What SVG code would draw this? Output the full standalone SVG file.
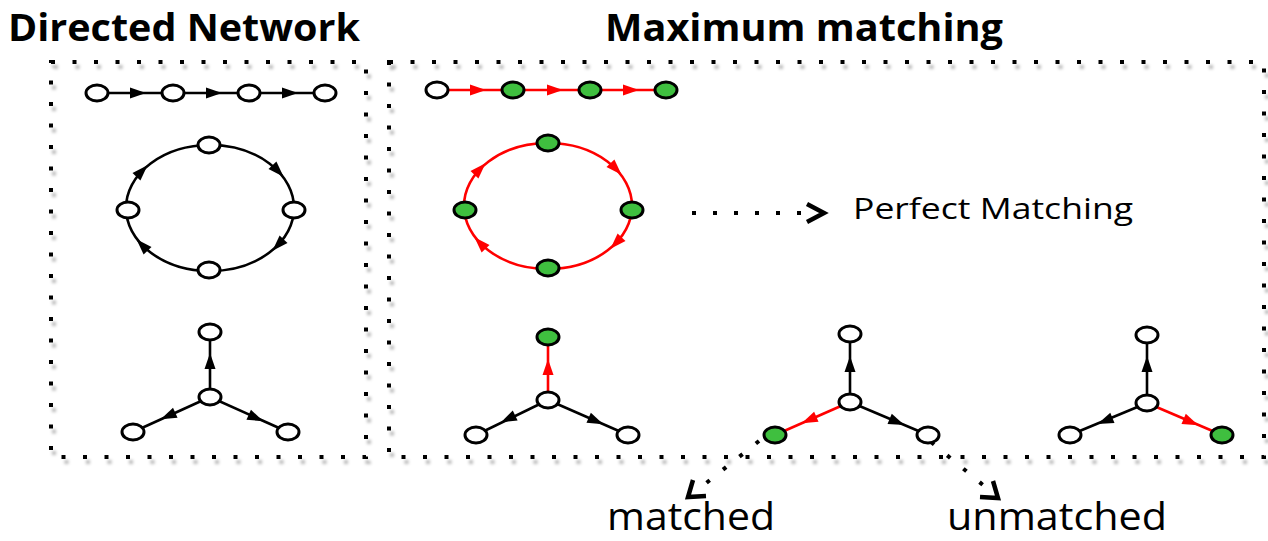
<svg xmlns="http://www.w3.org/2000/svg" xmlns:xlink="http://www.w3.org/1999/xlink" width="1268" height="541" viewBox="0 0 1268 541">
<style>
.frame{fill:none;stroke:#000;stroke-width:4;stroke-dasharray:4 17.5;filter:url(#sh)}
.dots{fill:none;stroke:#000;stroke-width:4;stroke-dasharray:4 17}
.chev{fill:none;stroke:#000;stroke-width:4.5;stroke-linejoin:miter;stroke-linecap:butt}
.n{fill:#fff;stroke:#000;stroke-width:3}
.g{fill:#3fbf3f;stroke:#000;stroke-width:3}
.e{stroke:#000;stroke-width:2.6;fill:none}
.r{stroke:#f00;stroke-width:2.6;fill:none}
.ab{fill:#000}
.ar{fill:#f00}
.title{font-family:"Open Sans","Liberation Sans",Arial,sans-serif;font-weight:bold;font-size:38px;fill:#000}
.lbl{font-family:"Open Sans","Liberation Sans",Arial,sans-serif;font-size:30px;fill:#000}
.big{font-family:"Open Sans","Liberation Sans",Arial,sans-serif;font-size:38px;fill:#000}
</style>
<defs>
<filter id="sh" x="-5%" y="-5%" width="110%" height="115%">
<feDropShadow dx="3" dy="5" stdDeviation="1.6" flood-color="#000" flood-opacity="0.28"/>
</filter>
<path id="ah" d="M-8,-5.5 L8,0 L-8,5.5 z"/>
</defs>

<g id="titles">
<text class="title" x="8" y="41" textLength="352" lengthAdjust="spacingAndGlyphs">Directed Network</text>
<text class="title" x="605" y="41" textLength="398" lengthAdjust="spacingAndGlyphs">Maximum matching</text>
</g>

<g id="frames">
<rect class="frame" x="51" y="62" width="315" height="395"/>
<rect class="frame" x="389" y="62" width="875" height="395"/>
</g>

<g id="connectors">
<!-- left chain -->
<line class="e" x1="97" y1="93" x2="325" y2="93"/>
<use href="#ah" class="ab" transform="translate(138,93)"/>
<use href="#ah" class="ab" transform="translate(214,93)"/>
<use href="#ah" class="ab" transform="translate(290,93)"/>
<!-- left ring -->
<ellipse class="e" cx="210" cy="208" rx="84" ry="63"/>
<use href="#ah" class="ab" transform="translate(278,171) rotate(46)"/>
<use href="#ah" class="ab" transform="translate(278,245) rotate(134)"/>
<use href="#ah" class="ab" transform="translate(142,245) rotate(226)"/>
<use href="#ah" class="ab" transform="translate(142,171) rotate(-46)"/>
<!-- left star -->
<line class="e" x1="210" y1="397" x2="210" y2="332"/>
<line class="e" x1="210" y1="397" x2="133" y2="432"/>
<line class="e" x1="210" y1="397" x2="288" y2="432"/>
<use href="#ah" class="ab" transform="translate(210,361) rotate(-90)"/>
<use href="#ah" class="ab" transform="translate(168,416) rotate(155.6)"/>
<use href="#ah" class="ab" transform="translate(256,418) rotate(24.2)"/>

<!-- right chain -->
<line class="r" x1="437" y1="90" x2="666" y2="90"/>
<use href="#ah" class="ar" transform="translate(478,90)"/>
<use href="#ah" class="ar" transform="translate(555,90)"/>
<use href="#ah" class="ar" transform="translate(631,90)"/>
<!-- right ring -->
<ellipse class="r" cx="548" cy="206" rx="84" ry="63"/>
<use href="#ah" class="ar" transform="translate(616,169) rotate(46)"/>
<use href="#ah" class="ar" transform="translate(616,243) rotate(134)"/>
<use href="#ah" class="ar" transform="translate(480,243) rotate(226)"/>
<use href="#ah" class="ar" transform="translate(480,169) rotate(-46)"/>
<!-- star 1 -->
<line class="r" x1="548" y1="400" x2="548" y2="337"/>
<line class="e" x1="548" y1="400" x2="476" y2="435"/>
<line class="e" x1="548" y1="400" x2="628" y2="435"/>
<use href="#ah" class="ar" transform="translate(548,367) rotate(-90)"/>
<use href="#ah" class="ab" transform="translate(508,419) rotate(154)"/>
<use href="#ah" class="ab" transform="translate(596,421) rotate(23.6)"/>
<!-- star 2 -->
<line class="e" x1="850" y1="402" x2="850" y2="334"/>
<line class="r" x1="850" y1="402" x2="775" y2="435"/>
<line class="e" x1="850" y1="402" x2="928" y2="435"/>
<use href="#ah" class="ab" transform="translate(850,364) rotate(-90)"/>
<use href="#ah" class="ar" transform="translate(809,420) rotate(156.3)"/>
<use href="#ah" class="ab" transform="translate(897,422) rotate(22.9)"/>
<!-- star 3 -->
<line class="e" x1="1147" y1="403" x2="1147" y2="335"/>
<line class="e" x1="1147" y1="403" x2="1070" y2="435"/>
<line class="r" x1="1147" y1="403" x2="1222" y2="435"/>
<use href="#ah" class="ab" transform="translate(1147,364) rotate(-90)"/>
<use href="#ah" class="ab" transform="translate(1105,421) rotate(157.4)"/>
<use href="#ah" class="ar" transform="translate(1191,422) rotate(23.1)"/>

<!-- annotation arrows -->
<line class="dots" x1="692" y1="213" x2="804" y2="213"/>
<polyline class="chev" points="807,204 824,213 807,222"/>
<line class="dots" x1="759" y1="441" x2="705" y2="484"/>
<polyline class="chev" points="706,496 688,497 693,480"/>
<line class="dots" x1="931" y1="442" x2="983" y2="485"/>
<polyline class="chev" points="993,481 998,498 980,497"/>
</g>

<g id="nodes">
<g id="dn-chain">
<ellipse class="n" cx="97" cy="93" rx="11" ry="8"/>
<ellipse class="n" cx="173" cy="93" rx="11" ry="8"/>
<ellipse class="n" cx="249" cy="93" rx="11" ry="8"/>
<ellipse class="n" cx="325" cy="93" rx="11" ry="8"/>
</g>
<g id="dn-ring">
<ellipse class="n" cx="209" cy="145" rx="11" ry="8"/>
<ellipse class="n" cx="128" cy="210" rx="11" ry="8"/>
<ellipse class="n" cx="294" cy="210" rx="11" ry="8"/>
<ellipse class="n" cx="209" cy="270" rx="11" ry="8"/>
</g>
<g id="dn-star">
<ellipse class="n" cx="210" cy="332" rx="11" ry="8"/>
<ellipse class="n" cx="210" cy="397" rx="11" ry="8"/>
<ellipse class="n" cx="133" cy="432" rx="11" ry="8"/>
<ellipse class="n" cx="288" cy="432" rx="11" ry="8"/>
</g>
<g id="mm-chain">
<ellipse class="n" cx="437" cy="90" rx="11" ry="8"/>
<ellipse class="g" cx="513" cy="90" rx="11" ry="8"/>
<ellipse class="g" cx="590" cy="90" rx="11" ry="8"/>
<ellipse class="g" cx="666" cy="90" rx="11" ry="8"/>
</g>
<g id="mm-ring">
<ellipse class="g" cx="548" cy="143" rx="11" ry="8"/>
<ellipse class="g" cx="465" cy="210" rx="11" ry="8"/>
<ellipse class="g" cx="632" cy="210" rx="11" ry="8"/>
<ellipse class="g" cx="548" cy="268" rx="11" ry="8"/>
</g>
<g id="mm-star1">
<ellipse class="g" cx="548" cy="337" rx="11" ry="8"/>
<ellipse class="n" cx="548" cy="400" rx="11" ry="8"/>
<ellipse class="n" cx="476" cy="435" rx="11" ry="8"/>
<ellipse class="n" cx="628" cy="435" rx="11" ry="8"/>
</g>
<g id="mm-star2">
<ellipse class="n" cx="850" cy="334" rx="11" ry="8"/>
<ellipse class="n" cx="850" cy="402" rx="11" ry="8"/>
<ellipse class="g" cx="775" cy="435" rx="11" ry="8"/>
<ellipse class="n" cx="928" cy="435" rx="11" ry="8"/>
</g>
<g id="mm-star3">
<ellipse class="n" cx="1147" cy="335" rx="11" ry="8"/>
<ellipse class="n" cx="1147" cy="403" rx="11" ry="8"/>
<ellipse class="n" cx="1070" cy="435" rx="11" ry="8"/>
<ellipse class="g" cx="1222" cy="435" rx="11" ry="8"/>
</g>
</g>

<g id="labels">
<text class="lbl" x="853" y="219" textLength="280" lengthAdjust="spacingAndGlyphs">Perfect Matching</text>
<text class="big" x="607" y="530" textLength="168" lengthAdjust="spacingAndGlyphs">matched</text>
<text class="big" x="947" y="530" textLength="220" lengthAdjust="spacingAndGlyphs">unmatched</text>
</g>
</svg>
